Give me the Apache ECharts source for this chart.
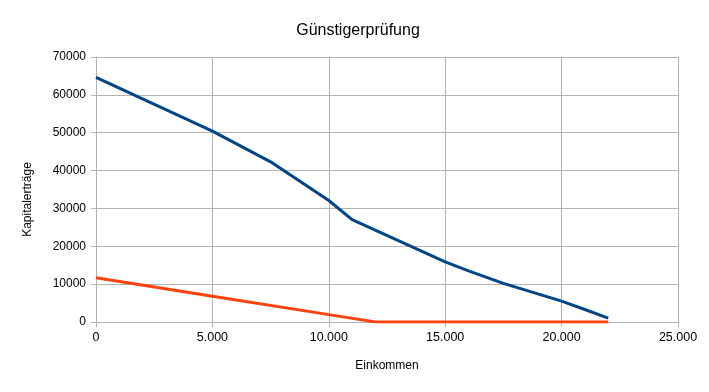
<!DOCTYPE html>
<html>
<head>
<meta charset="utf-8">
<script src="https://cdn.jsdelivr.net/npm/echarts@6/dist/echarts.min.js"></script>
<style>
html,body{margin:0;padding:0;background:#fff;}
#chart{width:709px;height:392px;}
</style>
</head>
<body>
<div id="chart"></div>
<script>
const titleText = "Günstigerprüfung";
const xAxisName = "Einkommen";
const yAxisName = "Kapitalerträge";

const blueX = [0, 5000, 7500, 10000, 11000, 15000, 16000, 17500, 20000, 21000, 22000];
const blueY = [64600, 50400, 42300, 32100, 27050, 15900, 13500, 10200, 5500, 3300, 1000];

const redX = [0, 5000, 10000, 12000, 22000];
const redY = [11700, 6800, 1950, 0, 0];

function pairs(xs, ys){ return xs.map((x,i)=>[x, ys[i]]); }

const chart = echarts.init(document.getElementById('chart'), null, {renderer:'canvas'});
const font = "'Liberation Sans', Arial, sans-serif";
chart.setOption({
  animation:false,
  backgroundColor:'#ffffff',
  title:{
    text:titleText, left:353, top:18, textAlign:'center',
    textStyle:{fontFamily:font, fontSize:16, fontWeight:'normal', color:'#000'}
  },
  grid:{left:96, right:31, top:57, bottom:70, containLabel:false},
  xAxis:{
    type:'value', min:0, max:25000, interval:5000,
    name:xAxisName, nameLocation:'middle', nameGap:38,
    nameTextStyle:{fontFamily:font, fontSize:12, color:'#000'},
    axisLine:{show:true, lineStyle:{color:'#b3b3b3', width:1}},
    axisTick:{show:true, length:5, lineStyle:{color:'#b3b3b3'}},
    splitLine:{show:true, lineStyle:{color:'#b3b3b3', width:1}},
    axisLabel:{fontFamily:font, fontSize:12.5, color:'#000', margin:9,
      formatter:function(v){ return String(v).replace(/\B(?=(\d{3})+(?!\d))/g, '.'); }}
  },
  yAxis:{
    type:'value', min:0, max:70000, interval:10000,
    name:yAxisName, nameLocation:'middle', nameGap:62, nameRotate:90,
    nameTextStyle:{fontFamily:font, fontSize:12, color:'#000', padding:[0,20,0,0]},
    axisLine:{show:true, lineStyle:{color:'#b3b3b3', width:1}},
    axisTick:{show:true, length:5, lineStyle:{color:'#b3b3b3'}},
    splitLine:{show:true, lineStyle:{color:'#b3b3b3', width:1}},
    axisLabel:{fontFamily:font, fontSize:12, color:'#000', margin:10,
      formatter:function(v){ return String(v); }}
  },
  series:[
    {type:'line', data:pairs(blueX, blueY), showSymbol:false, symbol:'none',
     lineStyle:{color:'#004586', width:3}, itemStyle:{color:'#004586'}},
    {type:'line', data:pairs(redX, redY), showSymbol:false, symbol:'none',
     lineStyle:{color:'#ff420e', width:3}, itemStyle:{color:'#ff420e'}}
  ]
});
</script>
</body>
</html>
